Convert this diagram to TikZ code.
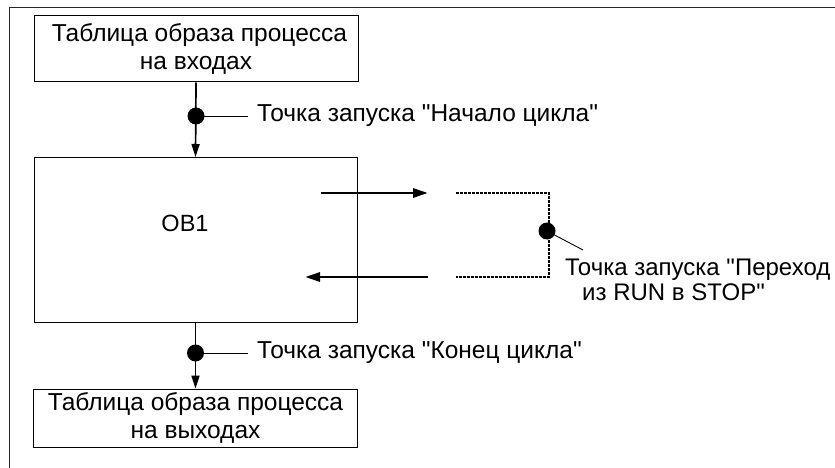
\documentclass[tikz,border=0pt]{standalone}
\usepackage{fontspec}
\newfontfamily\arial{Liberation Sans}
\usetikzlibrary{arrows.meta}
\begin{document}
\begin{tikzpicture}[x=1pt,y=-1pt,
  box/.style={draw=black,line width=1pt,fill=white,inner sep=0pt,align=center,font=\arial\fontsize{24.5}{28}\selectfont},
  lbl/.style={inner sep=0pt,anchor=west,font=\arial\fontsize{24.5}{28}\selectfont},
  flow/.style={line width=1.7pt,-{Triangle[length=13pt,width=8pt]}},
  harrow/.style={line width=2.8pt,-{Triangle[length=15pt,width=9pt]}},
  dotline/.style={line width=2.6pt,dash pattern=on 2.8pt off 1.2pt},
  blob/.style={circle,fill=black,inner sep=0pt,minimum size=17pt},
  lead/.style={line width=0.9pt}
]
\useasboundingbox (0,0) rectangle (835,468);
% frame
\draw[line width=1pt,black!85] (9,468) -- (9,8) -- (835,8);
% boxes
\node[box,minimum width=324pt,minimum height=66pt] (tin) at (196,49) {\ Таблица образа процесса\\на входах};
\node[box,minimum width=323pt,minimum height=165pt] (ob) at (195.5,240) {};
\node[inner sep=0pt,font=\arial\fontsize{23.5}{26}\selectfont] (obl) at (185,223) {OB1};
\node[box,minimum width=324pt,minimum height=58pt] (tout) at (195.5,418) {Таблица образа процесса\\на выходах};
% top flow
\draw[flow] (tin.south) -- (ob.north);
\node[blob] (d1) at (196,116) {};
\coordinate (e1) at (248,116);
\draw[lead] (d1.center) -- (e1);
\node[lbl] (t1) at (257,116) {Точка запуска "Начало цикла"};
% bottom flow
\draw[flow] (ob.south) -- (tout.north);
\node[blob] (d3) at (195.5,353) {};
\coordinate (e3) at (248,353);
\draw[lead] (d3.center) -- (e3);
\node[lbl] (t3) at (257,353) {Точка запуска "Конец цикла"};
% side arrows
\coordinate (r0) at (321,193);
\coordinate (r1) at (428,193);
\coordinate (l0) at (428,277);
\coordinate (l1) at (305,277);
\draw[harrow] (r0) -- (r1);
\draw[harrow] (l0) -- (l1);
% dotted branch
\coordinate (p0) at (456,193);
\coordinate (p1) at (549,193);
\coordinate (p2) at (549,277);
\coordinate (p3) at (456,277);
\draw[dotline] (p0) -- (p1) -- (p2) -- (p3);
\node[blob] (d2) at (547,231) {};
\coordinate (e2) at (583,250);
\draw[lead] (d2.center) -- (e2);
\node[lbl,font=\arial\fontsize{24}{28}\selectfont] (t2a) at (565,270) {Точка запуска "Переход};
\node[lbl,font=\arial\fontsize{24}{28}\selectfont] (t2b) at (582,292) {из RUN в STOP"};
\end{tikzpicture}
\end{document}
